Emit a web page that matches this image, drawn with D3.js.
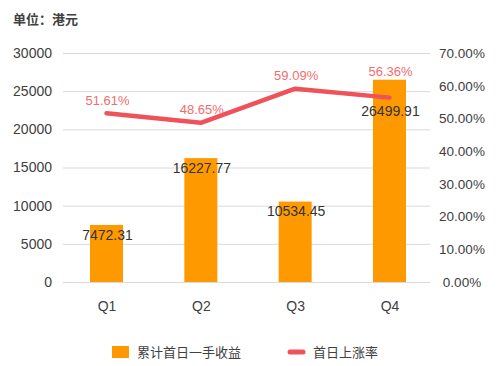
<!DOCTYPE html>
<html><head><meta charset="utf-8">
<script src="https://cdn.jsdelivr.net/npm/d3@7"></script>
<style>
html,body{margin:0;padding:0;background:#fff;}
text{font-family:"Liberation Sans","Noto Sans CJK SC",Arial,sans-serif;}
.cjk{font-family:"Noto Sans CJK SC","Liberation Sans",sans-serif;}
</style></head>
<body>
<svg id="c" width="500" height="366"></svg>
<script>
const quarters = ["Q1","Q2","Q3","Q4"];
const earnings = [7472.31, 16227.77, 10534.45, 26499.91];
const riseRate = [0.5161, 0.4865, 0.5909, 0.5636];
const leftTicks = [0,5000,10000,15000,20000,25000,30000];
const rightTicks = [0,0.1,0.2,0.3,0.4,0.5,0.6,0.7];
const seriesNames = ["累计首日一手收益","首日上涨率"];
const unitLabel = "单位：港元";

const svg = d3.select("#c");
const W = 500, H = 366;
const plotL = 63, plotR = 430, plotT = 53, plotB = 282;
const barColor = "#FF9900", lineColor = "#EF5258", lblRed = "#F26D6D", txt = "#404040", grid = "#D9D9D9";

const x = d3.scalePoint().domain(quarters).range([106.5, 389.5]);
const yL = d3.scaleLinear().domain([0,30000]).range([plotB, plotT]);
const yR = d3.scaleLinear().domain([0,0.7]).range([plotB, plotT]);
const bw = 33;

svg.append("rect").attr("width",W).attr("height",H).attr("fill","#fff");

// title
svg.append("text").attr("class","cjk").attr("x",13).attr("y",24)
  .attr("font-size",13).attr("font-weight","bold").attr("fill",txt).text(unitLabel);

// gridlines via left axis
const gL = svg.append("g").attr("transform",`translate(${plotL},0)`)
  .call(d3.axisLeft(yL).tickValues(leftTicks).tickSize(-(plotR-plotL)).tickPadding(11).tickFormat(d3.format("d")));
gL.select(".domain").remove();
gL.selectAll(".tick line").attr("stroke",grid).attr("stroke-width",1);
gL.selectAll(".tick text").attr("fill",txt).attr("font-size",14)
  .attr("font-family","Liberation Sans, Arial, sans-serif");

// right axis
const gR = svg.append("g").attr("transform",`translate(${plotR},0)`)
  .call(d3.axisRight(yR).tickValues(rightTicks).tickSize(0).tickPadding(0).tickFormat(d3.format(".2%")));
gR.select(".domain").remove();
gR.selectAll(".tick text").attr("fill",txt).attr("font-size",13.5)
  .attr("text-anchor","middle").attr("x",32)
  .attr("font-family","Liberation Sans, Arial, sans-serif");

// bars
svg.append("g").selectAll("rect").data(earnings).join("rect")
  .attr("x",(d,i)=>x(quarters[i])-bw/2)
  .attr("y",d=>yL(d))
  .attr("width",bw)
  .attr("height",d=>plotB-yL(d))
  .attr("fill",barColor);

// x axis labels
const gX = svg.append("g").attr("transform",`translate(0,${plotB})`)
  .call(d3.axisBottom(x).tickSize(0).tickPadding(19));
gX.select(".domain").remove();
gX.selectAll(".tick text").attr("fill",txt).attr("font-size",14)
  .attr("font-family","Liberation Sans, Arial, sans-serif");

// line
const line = d3.line().x((d,i)=>x(quarters[i])).y(d=>yR(d));
svg.append("path").datum(riseRate).attr("d",line)
  .attr("fill","none").attr("stroke",lineColor).attr("stroke-width",4.5)
  .attr("stroke-linejoin","round").attr("stroke-linecap","round");

// bar labels: inside top of bar, pushed below the line point if they would collide
svg.append("g").selectAll("text").data(earnings).join("text")
  .attr("x",(d,i)=>x(quarters[i])+1)
  .attr("y",(d,i)=>Math.max(yL(d)+10, yR(riseRate[i])+13))
  .attr("dy","0.35em")
  .attr("text-anchor","middle").attr("font-size",14).attr("fill","#333")
  .text(d=>d3.format(".2f")(d));

// line labels: above the point, lifted above the bar top if needed
svg.append("g").selectAll("text").data(riseRate).join("text")
  .attr("x",(d,i)=>x(quarters[i])+1)
  .attr("y",(d,i)=>{
    const ly = yR(d)-13, top = yL(earnings[i]);
    return top < ly + 8 ? top - 8 : ly;
  })
  .attr("dy","0.35em")
  .attr("text-anchor","middle").attr("font-size",13).attr("fill",lblRed)
  .text(d=>d3.format(".2%")(d));

// legend
const lg = svg.append("g");
lg.append("rect").attr("x",112).attr("y",346).attr("width",17).attr("height",12).attr("fill",barColor);
lg.append("text").attr("class","cjk").attr("x",137).attr("y",357).attr("font-size",13).attr("fill",txt).text(seriesNames[0]);
lg.append("line").attr("x1",290).attr("x2",303).attr("y1",352).attr("y2",352)
  .attr("stroke",lineColor).attr("stroke-width",5).attr("stroke-linecap","round");
lg.append("text").attr("class","cjk").attr("x",313).attr("y",357).attr("font-size",13).attr("fill",txt).text(seriesNames[1]);
</script>
</body></html>
